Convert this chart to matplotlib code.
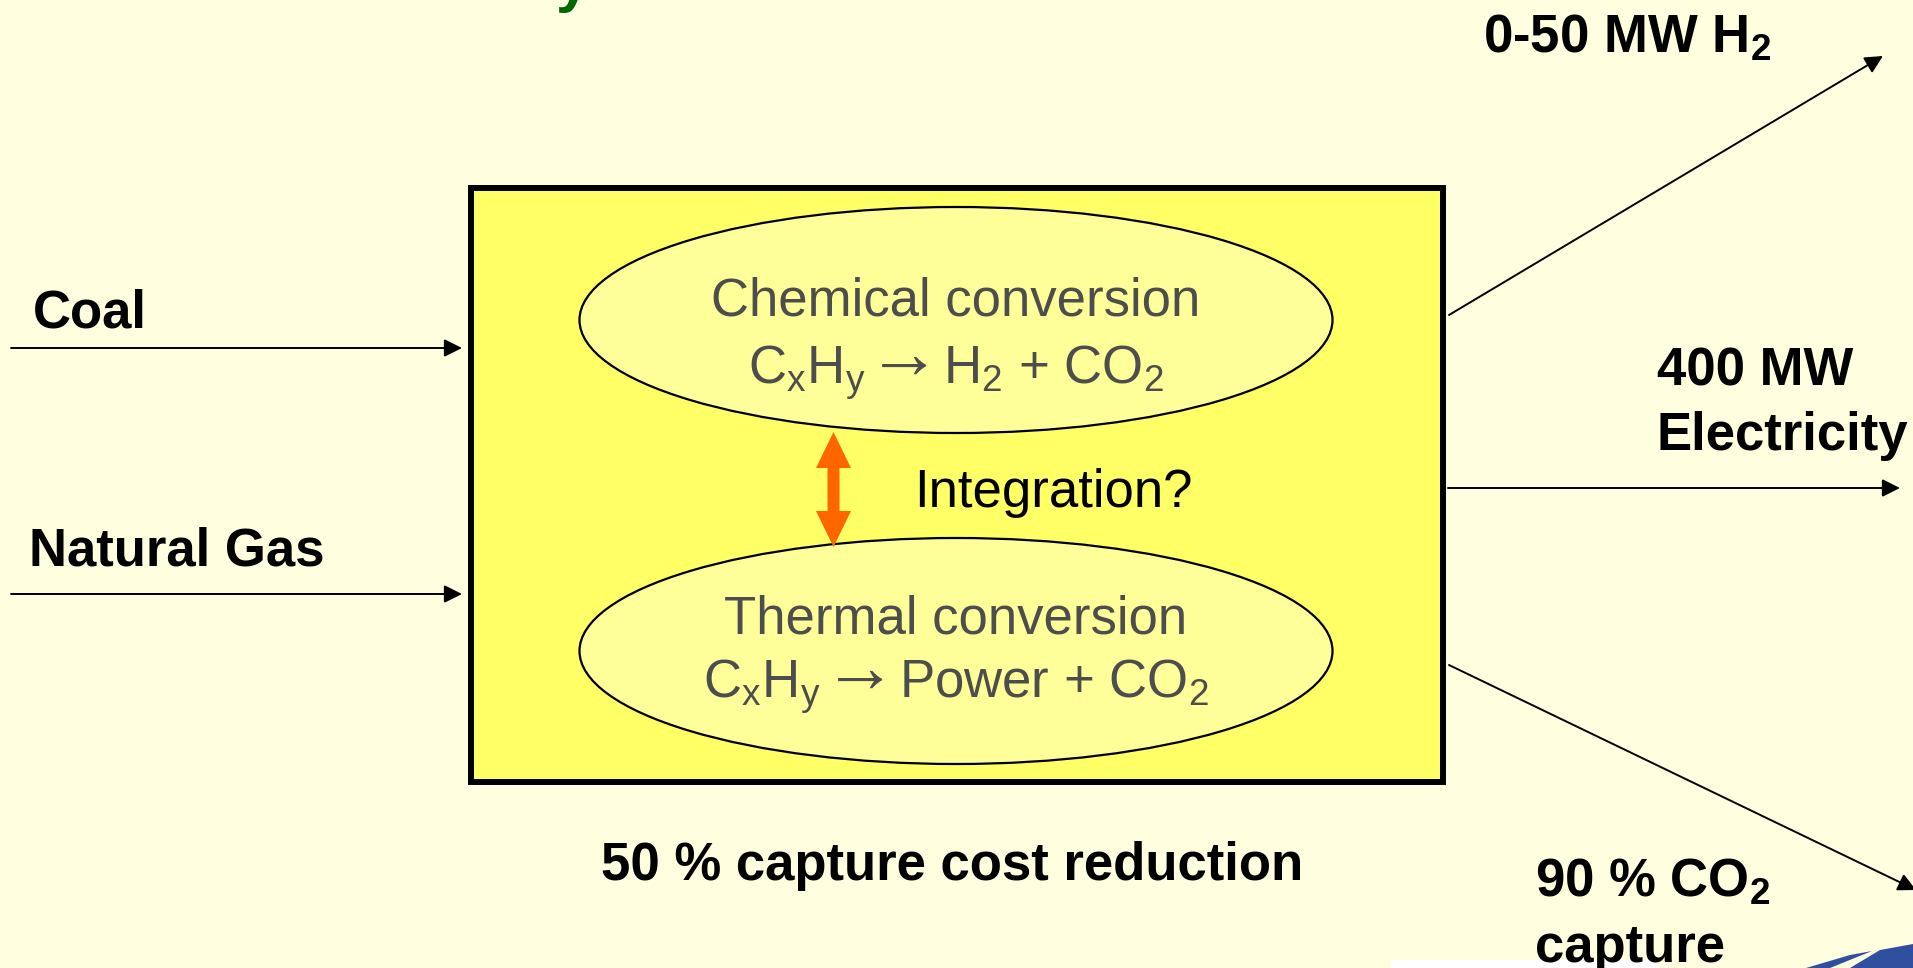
import matplotlib
matplotlib.use("Agg")
import matplotlib.pyplot as plt
from matplotlib.patches import Ellipse, Rectangle, Polygon, FancyArrowPatch
from matplotlib.textpath import TextPath
from matplotlib.font_manager import FontProperties

plt.rcParams['font.family'] = ['Liberation Sans', 'DejaVu Sans']
plt.rcParams['mathtext.fontset'] = 'custom'
plt.rcParams['mathtext.rm'] = 'Liberation Sans'
plt.rcParams['mathtext.bf'] = 'Liberation Sans:bold'
plt.rcParams['mathtext.default'] = 'regular'

# Diagram content
input_labels = ["Coal", "Natural Gas"]
process_titles = ["Chemical conversion", "Thermal conversion"]
formula_left = [r"C$_x$H$_y$", r"C$_x$H$_y$"]
formula_right = [r"H$_2$ + CO$_2$", r"Power + CO$_2$"]
output_labels = [[r"0-50 MW H$_2$"], ["400 MW", "Electricity"], [r"90 % CO$_2$", "capture"]]
link_label = "Integration?"
footer = "50 % capture cost reduction"

# Layout (pixel space, y downwards)
W, H = 1913, 968
bg = "#FFFFE0"
grey = "#4D4D4D"
box = (471, 188, 1443, 782)
ell_cx, ell_w, ell_h = 956, 753, 226
ell_cy = [320, 651]
title_base = [315, 633]
formula_base = [384, 698]
input_arrow_y = [348, 594]
input_text_pos = [(33, 327), (29, 565)]
output_arrows = [((1449, 315), (1883, 56)), ((1448, 488), (1900, 488)), ((1449, 665), (1916, 890))]
output_text_pos = [(1483, 53), (1657, 385), (1535, 897)]
line_gap = 65
fs = 38

fig = plt.figure(figsize=(W / 100, H / 100), dpi=100)
fig.patch.set_facecolor(bg)
ax = fig.add_axes([0, 0, 1, 1])
ax.set_xlim(0, W)
ax.set_ylim(H, 0)
ax.axis("off")
ax.set_facecolor(bg)
fig.canvas.draw()
rend = fig.canvas.get_renderer()

# partial title descender at top edge
ax.text(556, 0, "y", color="#006600", fontsize=44, fontweight="bold", va="baseline", ha="left")

# main box
ax.add_patch(Rectangle((box[0], box[1]), box[2] - box[0], box[3] - box[1],
                       facecolor="#FFFF66", edgecolor="black", lw=4.3, zorder=1))


def formula(cx, base, left, right, gap=17, arrow_w=44):
    t1 = ax.text(0, base, left, fontsize=fs, color=grey, ha="left", va="baseline", zorder=3)
    t3 = ax.text(0, base, right, fontsize=fs, color=grey, ha="left", va="baseline", zorder=3)
    w1 = t1.get_window_extent(rend).width
    w3 = t3.get_window_extent(rend).width
    prop = FontProperties(family="Liberation Sans", weight="bold")
    ext = TextPath((0, 0), "→", size=1, prop=prop).get_extents()
    k = 100 / 72
    fa = arrow_w / (ext.width * k)
    total = w1 + gap + arrow_w + gap + w3
    x0 = cx - total / 2
    t1.set_x(x0)
    ax_x = x0 + w1 + gap - ext.x0 * fa * k
    mid = (ext.y0 + ext.y1) / 2 * fa * k
    ax.text(ax_x, base - 19 + mid, "→", fontsize=fa, color=grey, family="Liberation Sans",
            fontweight="bold", ha="left", va="baseline", zorder=3)
    t3.set_x(x0 + w1 + gap + arrow_w + gap)


# process ellipses
for i, cy in enumerate(ell_cy):
    ax.add_patch(Ellipse((ell_cx, cy), ell_w, ell_h, facecolor="#FFFF99",
                         edgecolor="black", lw=1.6, zorder=2))
    ax.text(ell_cx, title_base[i], process_titles[i], fontsize=fs, color=grey,
            ha="center", va="baseline", zorder=3)
    formula(ell_cx, formula_base[i], formula_left[i], formula_right[i])

# orange double arrow between the ellipses
cx, y0, y1 = 833.5, 432, 547
sw, hw, hl = 6, 17.5, 36
verts = [(cx, y0), (cx + hw, y0 + hl), (cx + sw, y0 + hl), (cx + sw, y1 - hl), (cx + hw, y1 - hl),
         (cx, y1), (cx - hw, y1 - hl), (cx - sw, y1 - hl), (cx - sw, y0 + hl), (cx - hw, y0 + hl)]
ax.add_patch(Polygon(verts, closed=True, facecolor="#FF6600", edgecolor="none", zorder=4))
ax.text(914, 507, link_label, fontsize=fs, color="black", ha="left", va="baseline", zorder=3)


def arrow(p0, p1):
    a = FancyArrowPatch(p0, p1, arrowstyle="-|>,head_length=0.4,head_width=0.2",
                        mutation_scale=27, lw=1.4, color="black", shrinkA=0, shrinkB=0, zorder=5)
    ax.add_patch(a)


# inputs
for label, y, (tx, ty) in zip(input_labels, input_arrow_y, input_text_pos):
    arrow((11, y), (462, y))
    ax.text(tx, ty, label, fontsize=fs, fontweight="bold", ha="left", va="baseline")

# outputs
for (p0, p1), lines, (tx, ty) in zip(output_arrows, output_labels, output_text_pos):
    arrow(p0, p1)
    for i, line in enumerate(lines):
        ax.text(tx, ty + i * line_gap, line, fontsize=fs, fontweight="bold", ha="left", va="baseline")

ax.text(952, 880, footer, fontsize=fs, fontweight="bold", ha="center", va="baseline")

# logo fragments at the bottom edge
ax.add_patch(Rectangle((1391, 960), 268, 10, facecolor="white", edgecolor="none"))
ax.add_patch(Polygon([(1806, 968), (1850, 955), (1872, 951), (1830, 968)], closed=True,
                     facecolor="#2E4F9E", edgecolor="none"))
ax.add_patch(Polygon([(1850, 968), (1880, 950), (1913, 944), (1913, 968)], closed=True,
                     facecolor="#2E4F9E", edgecolor="none"))

fig.savefig("out.png", dpi=100, facecolor=bg)
